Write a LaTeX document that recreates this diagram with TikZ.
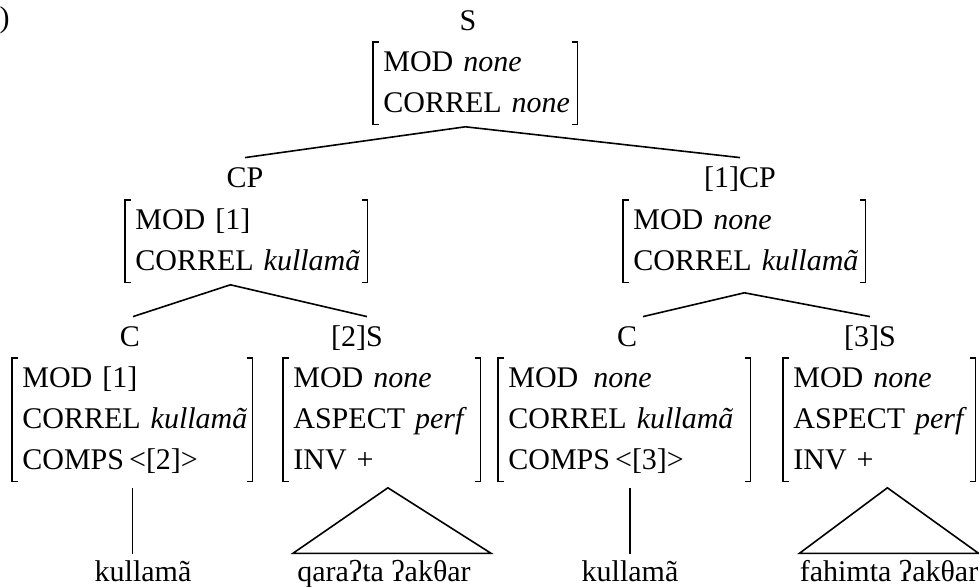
\documentclass[tikz,border=0pt]{standalone}
\usepackage{fontspec}
\setmainfont{Liberation Serif}
\tikzset{
  cat/.style={anchor=base,inner sep=5pt,text height=10pt,text depth=3pt},
  feat/.style={anchor=north west,inner xsep=5pt,inner ysep=0pt,align=left},
  leaf/.style={anchor=base,inner xsep=0pt,inner ysep=3pt},
  brk/.style={line width=0.6pt},
  branch/.style={line width=0.8pt}
}
\newcommand{\avmrows}[1]{\begin{tabular}{@{}l@{}}#1\end{tabular}}
\newcommand{\avmbrackets}[1]{%
  \draw[brk] ([xshift=3pt]#1.north west) -| (#1.south west) -- ++(3pt,0);
  \draw[brk] ([xshift=-3pt]#1.north east) -| (#1.south east) -- ++(-3pt,0);}

\begin{document}
\begin{tikzpicture}[x=0.5pt,y=-0.5pt,
  every node/.append style={font=\fontsize{15}{20.5}\selectfont}]
  \useasboundingbox (0,0) rectangle (979,587);

  \node (num) [anchor=base east,inner sep=0pt] at (10,28) {)};

  \node (sroot) [cat] at (468,31) {S};
  \node (sfeat) [feat,text width=92pt] at (373,42)
    {\avmrows{MOD \textit{none}\\CORREL \textit{none}}};
  \avmbrackets{sfeat}

  \node (cp) [cat] at (245,188) {CP};
  \node (cpfeat) [feat,text width=111pt] at (125,200)
    {\avmrows{MOD [1]\\CORREL \textit{kullamã}}};
  \avmbrackets{cpfeat}

  \node (cpone) [cat] at (740,188) {[1]CP};
  \node (cponefeat) [feat,text width=111pt] at (623,200)
    {\avmrows{MOD \textit{none}\\CORREL \textit{kullamã}}};
  \avmbrackets{cponefeat}

  \node (cl) [cat] at (130,347) {C};
  \node (cfeat) [feat,text width=110pt] at (12,358)
    {\avmrows{MOD [1]\\CORREL \textit{kullamã}\\COMPS\,<[2]>}};
  \avmbrackets{cfeat}

  \node (stwo) [cat] at (357,347) {[2]S};
  \node (stwofeat) [feat,text width=88.5pt] at (283,358)
    {\avmrows{MOD \textit{none}\\ASPECT \textit{perf}\\INV +}};
  \avmbrackets{stwofeat}

  \node (cr) [cat] at (627,347) {C};
  \node (crfeat) [feat,text width=116pt] at (498,358)
    {\avmrows{MOD\enspace\textit{none}\\CORREL \textit{kullamã}\\COMPS\,<[3]>}};
  \avmbrackets{crfeat}

  \node (sthree) [cat] at (870,347) {[3]S};
  \node (sthreefeat) [feat,text width=86pt] at (783,358)
    {\avmrows{MOD \textit{none}\\ASPECT \textit{perf}\\INV +}};
  \avmbrackets{sthreefeat}

  \node (kulla) [leaf] at (143,581) {kullamã};
  \node (qara) [leaf] at (384,581) {qaraʔta ʔakθar};
  \node (kullb) [leaf] at (630,581) {kullamã};
  \node (fahim) [leaf] at (889,581) {fahimta ʔakθar};

  \draw[branch] (cp.north) -- ([xshift=-5pt,yshift=-1pt]sfeat.south) -- (cpone.north);
  \draw[branch] ([xshift=1.5pt]cl.north) -- ([xshift=-8pt,yshift=-1pt]cpfeat.south)
    -- ([xshift=5pt]stwo.north);
  \draw[branch] ([xshift=8pt]cr.north) -- ([yshift=-5pt]cponefeat.south) -- (sthree.north);

  \coordinate (cfoot) at ([yshift=-3pt]cfeat.south);
  \coordinate (crfoot) at ([yshift=-3pt]crfeat.south);
  \draw[branch] (cfoot) -- (cfoot |- kulla.north);
  \draw[branch] (crfoot -| kullb.north) -- (kullb.north);
  \draw[branch] ([xshift=-2pt]qara.north west) -- ([xshift=3pt,yshift=-3pt]stwofeat.south)
    -- ([xshift=10pt]qara.north east) -- cycle;
  \draw[branch] (fahim.north west) -- ([xshift=4pt,yshift=-3pt]sthreefeat.south)
    -- (fahim.north east) -- cycle;
\end{tikzpicture}
\end{document}
